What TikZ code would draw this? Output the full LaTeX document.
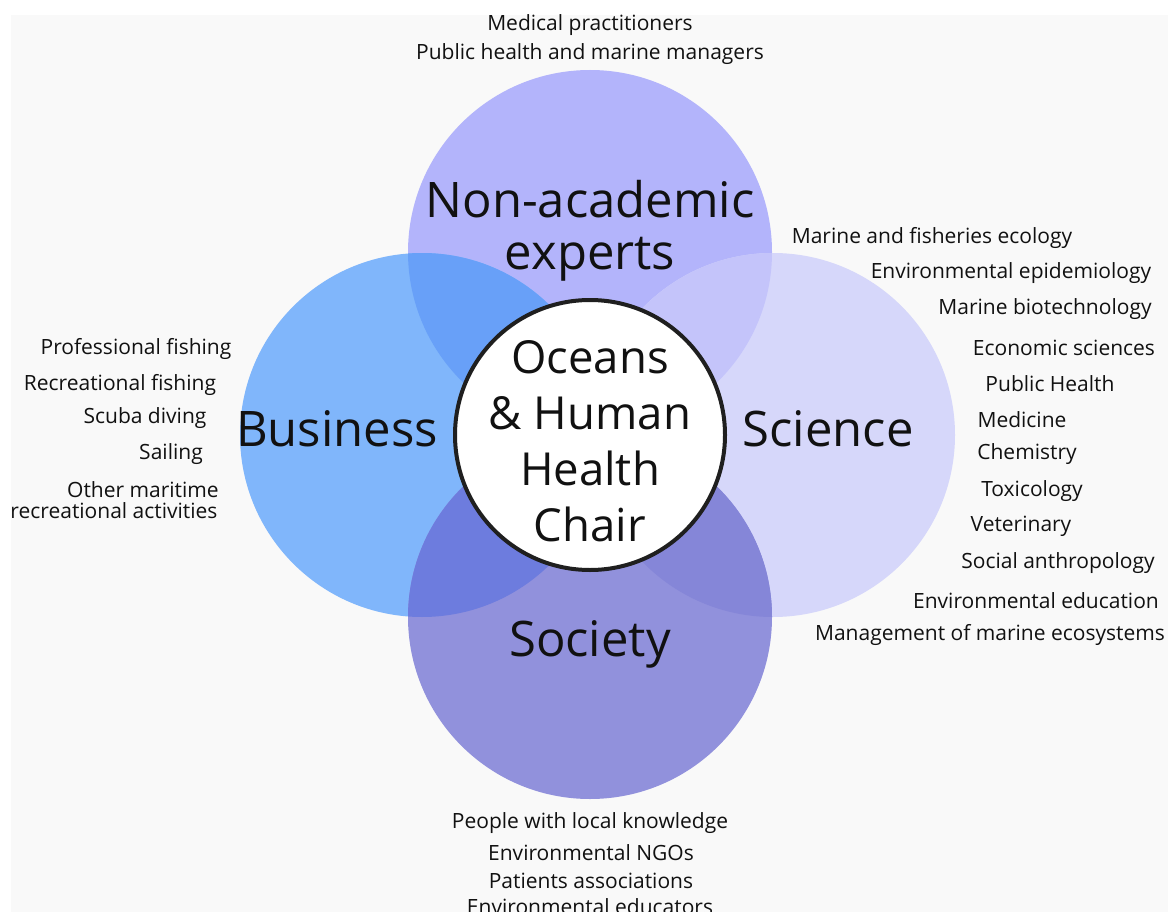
\documentclass[tikz,border=0pt]{standalone}
\usepackage{fontspec}
\setmainfont{Open Sans}
\definecolor{bgc}{HTML}{F9F9F9}
\definecolor{nac}{HTML}{B3B4FB}
\definecolor{busc}{HTML}{80B6FB}
\definecolor{scic}{HTML}{D6D7FA}
\definecolor{socc}{HTML}{9191DC}
\definecolor{nabus}{HTML}{68A0F8}
\definecolor{nasci}{HTML}{C4C4FA}
\definecolor{bussoc}{HTML}{6D7CDE}
\definecolor{scisoc}{HTML}{8586D8}
\definecolor{txt}{HTML}{111111}
\begin{document}
\begin{tikzpicture}[x=1pt,y=-1pt,
  petal/.style={circle,minimum size=364pt,inner sep=0pt,draw=none},
  big/.style={font=\fontsize{49}{52}\selectfont,text=txt,inner sep=0pt,align=center},
  item/.style={font=\fontsize{21}{24}\selectfont,text=txt,inner sep=0pt,anchor=center},
  hub/.style={circle,minimum size=270pt,inner sep=0pt,fill=white,draw=black!88,line width=4pt}]
\useasboundingbox (0,0) rectangle (1170,912);
\fill[white] (0,0) rectangle (1170,912);
\fill[bgc] (11,15) rectangle (1168,912);
% petals
\node[petal,fill=nac] (na) at (590,252) {};
\node[petal,fill=busc] (bus) at (422,435) {};
\node[petal,fill=scic] (sci) at (773,435) {};
\node[petal,fill=socc] (soc) at (590,617) {};
% overlaps
\begin{scope}
  \clip (590,252) circle (182);
  \fill[nabus] (422,435) circle (182);
  \fill[nasci] (773,435) circle (182);
\end{scope}
\begin{scope}
  \clip (590,617) circle (182);
  \fill[bussoc] (422,435) circle (182);
  \fill[scisoc] (773,435) circle (182);
\end{scope}
% hub
\node[hub] (hubc) at (590,435) {};
\node[font=\fontsize{45.5}{56}\selectfont,text=txt,align=center,inner sep=0pt] (hubt) at (590,441) {Oceans\\\& Human\\Health\\Chair};
% big labels
\node[big] (nal) at (590,231) {Non-academic\\experts};
\node[big] (busl) at (337,429) {Business};
\node[big] (scil) at (828,429) {Science};
\node[big] (socl) at (590,644) {Society};
% top
\node[item] (t1) at (590,25) {Medical practitioners};
\node[item] (t2) at (590,54) {Public health and marine managers};
% right
\node[item] (r1) at (932,238) {Marine and fisheries ecology};
\node[item] (r2) at (1011,273) {Environmental epidemiology};
\node[item] (r3) at (1045,309) {Marine biotechnology};
\node[item] (r4) at (1064,348) {Economic sciences};
\node[item] (r5) at (1050,384) {Public Health};
\node[item] (r6) at (1022,420) {Medicine};
\node[item] (r7) at (1027,454) {Chemistry};
\node[item] (r8) at (1032,491) {Toxicology};
\node[item] (r9) at (1021,526) {Veterinary};
\node[item] (r10) at (1058,563) {Social anthropology};
\node[item] (r11) at (1036,601) {Environmental education};
\node[item] (r12) at (990,635) {Management of marine ecosystems};
% left
\node[item] (l1) at (136,349) {Professional fishing};
\node[item] (l2) at (120,385) {Recreational fishing};
\node[item] (l3) at (145,418) {Scuba diving};
\node[item] (l4) at (171,454) {Sailing};
\node[item] (l5) at (143,490) {Other maritime};
\node[item] (l6) at (114,511) {recreational activities};
% bottom
\node[item] (b1) at (590,823) {People with local knowledge};
\node[item] (b2) at (591,853) {Environmental NGOs};
\node[item] (b3) at (591,881) {Patients associations};
\node[item] (b4) at (590,907) {Environmental educators};
\end{tikzpicture}
\end{document}
